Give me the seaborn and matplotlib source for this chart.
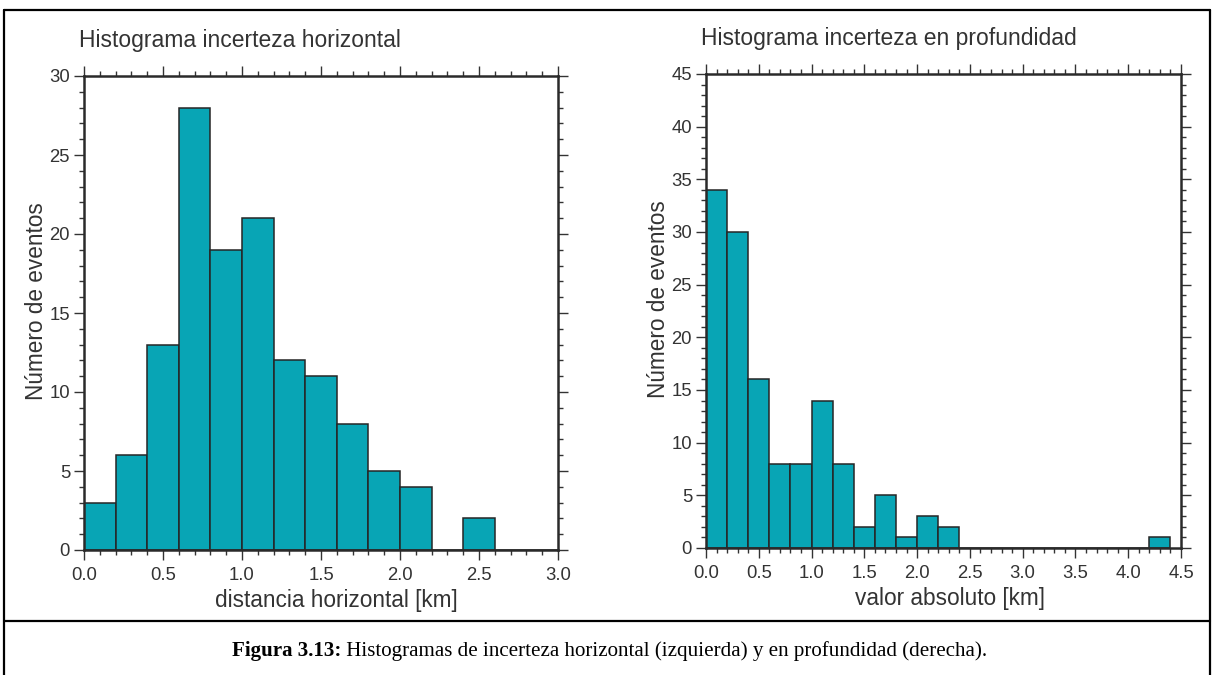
import numpy as np
import pandas as pd
import seaborn as sns
import matplotlib
matplotlib.use("Agg")
import matplotlib.pyplot as plt
from matplotlib.ticker import MultipleLocator, FixedLocator
from matplotlib.lines import Line2D

# Horizontal uncertainty: 2 km bins from 0 to 30 km
horiz_edges = list(range(0, 31, 2))
horiz_counts = [3, 6, 13, 28, 19, 21, 12, 11, 8, 5, 4, 0, 2, 0, 0]

# Depth uncertainty: 2 km bins from 0 to 44 km
depth_edges = list(range(0, 45, 2))
depth_counts = [34, 30, 16, 8, 8, 14, 8, 2, 5, 1, 3, 2,
                0, 0, 0, 0, 0, 0, 0, 0, 0, 1]

horiz_xticks = [0, 5, 10, 15, 20, 25, 30]
horiz_xticklabels = ["0.0", "0.5", "1.0", "1.5", "2.0", "2.5", "3.0"]
depth_xticks = [0, 5, 10, 15, 20, 25, 30, 35, 40, 45]
depth_xticklabels = ["0.0", "0.5", "1.0", "1.5", "2.0", "2.5", "3.0", "3.5", "4.0", "4.5"]

titles = ["Histograma incerteza horizontal", "Histograma incerteza en profundidad"]
xlabels = ["distancia horizontal [km]", "valor absoluto [km]"]
ylabel = "Número de eventos"
caption_bold = "Figura 3.13:"
caption_rest = " Histogramas de incerteza horizontal (izquierda) y en profundidad (derecha)."

sns.set_theme(style="ticks")
plt.rcParams["font.family"] = ["Liberation Sans", "DejaVu Sans"]

TEXT = "#333333"
FILL = "#08a5b5"
EDGE = "#262626"

fig = plt.figure(figsize=(12.14, 6.75), dpi=100)
fig.patch.set_facecolor("white")

ax1 = fig.add_axes([84 / 1214, 1 - 550 / 675, 474 / 1214, 474 / 675])
ax2 = fig.add_axes([706 / 1214, 1 - 548 / 675, 475 / 1214, 474 / 675])


def draw_hist(ax, edges, counts, xmax, ymax, xticks, xticklabels, title, xlabel, xlab_pos):
    edge_arr = np.asarray(edges, dtype=float)
    centers = (edge_arr[:-1] + edge_arr[1:]) / 2
    df = pd.DataFrame({"x": centers, "w": np.asarray(counts, dtype=float)})
    sns.histplot(data=df, x="x", weights="w", bins=list(edges), ax=ax,
                 color=FILL, edgecolor=EDGE, linewidth=1.1, alpha=1)
    ax.set_xlim(0, xmax)
    ax.set_ylim(0, ymax)
    ax.xaxis.set_major_locator(FixedLocator(xticks))
    ax.set_xticklabels(xticklabels)
    ax.yaxis.set_major_locator(MultipleLocator(5))
    ax.xaxis.set_minor_locator(MultipleLocator(1))
    ax.yaxis.set_minor_locator(MultipleLocator(1))
    ax.tick_params(which="both", direction="out", top=True, right=True,
                   labeltop=False, labelright=False, colors="#333333",
                   labelcolor=TEXT, labelsize=13.3, width=1.0)
    ax.tick_params(which="major", length=7.5, pad=2.5)
    ax.tick_params(axis="x", which="major", pad=4.5)
    ax.tick_params(which="minor", length=3.8)
    for s in ax.spines.values():
        s.set_visible(True)
        s.set_linewidth(1.8)
        s.set_color("#2a2a2a")
    ax.set_xlabel(xlabel, fontsize=16.3, color=TEXT, labelpad=4, x=xlab_pos)
    ax.set_ylabel(ylabel, fontsize=16.3, color=TEXT, labelpad=1, y=0.525)
    ax.set_title(title, fontsize=16.5, color=TEXT, loc="left", pad=21, x=-0.01)


draw_hist(ax1, horiz_edges, horiz_counts, 30, 30, horiz_xticks, horiz_xticklabels,
          titles[0], xlabels[0], 0.532)
draw_hist(ax2, depth_edges, depth_counts, 45, 45, depth_xticks, depth_xticklabels,
          titles[1], xlabels[1], 0.514)

# Frame around the figure and the caption box
W, H = 1214, 675
def fx(px):
    return px / W
def fy(py):
    return 1 - py / H

frame_kw = dict(color="black", linewidth=1.6, transform=fig.transFigure)
fig.add_artist(Line2D([fx(4), fx(1210)], [fy(10), fy(10)], **frame_kw))
fig.add_artist(Line2D([fx(4), fx(4)], [fy(10), 0], **frame_kw))
fig.add_artist(Line2D([fx(1210), fx(1210)], [fy(10), 0], **frame_kw))
fig.add_artist(Line2D([fx(4), fx(1210)], [fy(621), fy(621)], **frame_kw))

# Caption: bold label followed by regular text
fig.canvas.draw()
renderer = fig.canvas.get_renderer()
t1 = fig.text(fx(232), fy(651), caption_bold, family=["Liberation Serif"],
              fontweight="bold", fontsize=15.1, color="black", va="center", ha="left")
bb = t1.get_window_extent(renderer=renderer)
fig.text(bb.x1 / W, fy(651), caption_rest, family=["Liberation Serif"],
         fontsize=15.1, color="black", va="center", ha="left")

fig.savefig("out.png", dpi=100, facecolor="white")
